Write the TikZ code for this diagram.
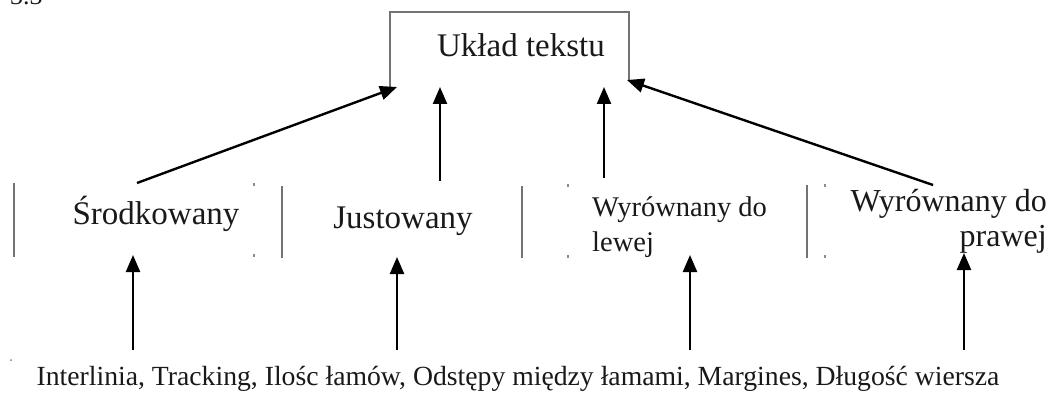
\documentclass[tikz,border=0pt]{standalone}
\usepackage{fontspec}
\setmainfont{Liberation Serif}
\usetikzlibrary{arrows.meta}
\begin{document}
\begin{tikzpicture}[x=1pt,y=-1pt,
  arr/.style={line width=2.4pt,-{Triangle[length=17pt,width=14pt]}},
  brk/.style={line width=1.5pt,draw=black!55},
  tck/.style={line width=1.5pt,draw=black!45},
  lbl/.style={inner sep=0pt,text=black!90}]
\useasboundingbox (0,0) rectangle (1055,414);
\clip (0,0) rectangle (1055,414);
% clipped figure number
\node[lbl,anchor=base west,font=\fontsize{26}{28}\selectfont] (num) at (10,5) {3.3};
% top box
\node[minimum width=239pt,minimum height=76pt,inner sep=0pt] (top) at (509.5,50) {};
\draw[brk] (390,88) -- (390,12) -- (629,12) -- (629,80);
\node[lbl,font=\fontsize{33}{36}\selectfont] (uklad) at (521,45) {Układ tekstu};
% group brackets
\draw[brk] (14,183) -- (14,257);
\draw[tck] (254,183) -- (254,186) (254,254) -- (254,257);
\draw[brk] (282,186) -- (282,258);
\draw[brk] (522,186) -- (522,258);
\draw[tck] (568,184) -- (568,187) (568,255) -- (568,258);
\draw[brk] (807,185) -- (807,258);
\draw[tck] (825,184) -- (825,187) (825,255) -- (825,258);
% labels
\node[lbl,font=\fontsize{33}{36}\selectfont] (srod) at (156,214) {Środkowany};
\node[lbl,font=\fontsize{33}{36}\selectfont] (just) at (403,221) {Justowany};
\node[lbl,font=\fontsize{28.5}{35}\selectfont,align=left,anchor=north west] (lewa) at (592,196) {Wyrównany do\\lewej};
\node[lbl,font=\fontsize{32}{35}\selectfont,align=right,anchor=north east] (prawa) at (1047,189) {Wyrównany do\\prawej};
% bottom text
\node[lbl,font=\fontsize{27.7}{30}\selectfont] (bottom) at (518,379) {Interlinia, Tracking, Ilośc łamów, Odstępy między łamami, Margines, Długość wiersza};
\fill[black!50] (11,360) circle (1pt);
% arrow endpoints
\coordinate (s1) at (137,183);
\coordinate (s2) at (440,181);
\coordinate (s3) at (604,178);
\coordinate (s4) at (933,185);
\coordinate (t1) at (397,87);
\coordinate (t2) at (440,87);
\coordinate (t3) at (604,87);
\coordinate (t4) at (627,80);
\draw[arr] (s1) -- (t1);
\draw[arr] (s2) -- (t2);
\draw[arr] (s3) -- (t3);
\draw[arr] (s4) -- (t4);
\coordinate (b1) at (133,350);
\coordinate (b2) at (397,350);
\coordinate (b3) at (690,350);
\coordinate (b4) at (964,350);
\coordinate (u1) at (133,255);
\coordinate (u2) at (397,257);
\coordinate (u3) at (690,255);
\coordinate (u4) at (964,253);
\draw[arr] (b1) -- (u1);
\draw[arr] (b2) -- (u2);
\draw[arr] (b3) -- (u3);
\draw[arr] (b4) -- (u4);
\end{tikzpicture}
\end{document}
